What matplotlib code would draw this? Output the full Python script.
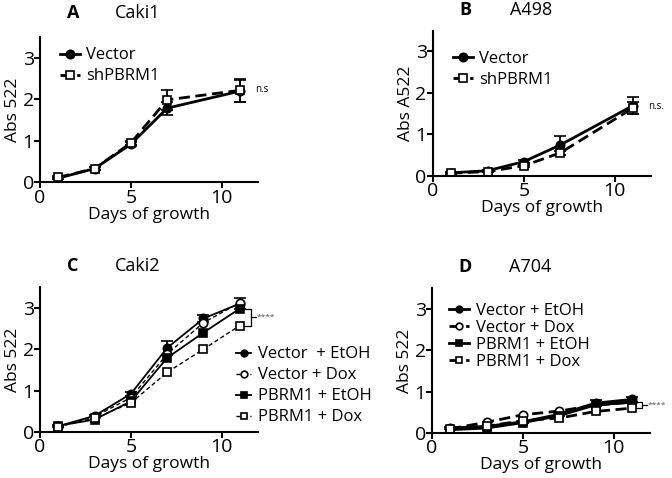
import matplotlib.pyplot as plt

plt.rcParams['font.family'] = ['Open Sans', 'DejaVu Sans']
plt.rcParams['axes.linewidth'] = 1.5
plt.rcParams['xtick.major.width'] = 1.5
plt.rcParams['ytick.major.width'] = 1.5
plt.rcParams['xtick.major.size'] = 4
plt.rcParams['ytick.major.size'] = 4
plt.rcParams['xtick.labelsize'] = 14
plt.rcParams['ytick.labelsize'] = 14

# data
days_ab = [1, 3, 5, 7, 11]
days_cd = [1, 3, 5, 7, 9, 11]

labels_ab = ['Vector', 'shPBRM1']
labels_c = ['Vector  + EtOH', 'Vector + Dox', 'PBRM1 + EtOH', 'PBRM1 + Dox']
labels_d = ['Vector + EtOH', 'Vector + Dox', 'PBRM1 + EtOH', 'PBRM1 + Dox']

caki1_vector = [0.10, 0.33, 0.92, 1.79, 2.20]
caki1_vector_err = [0.03, 0.03, 0.05, 0.16, 0.27]
caki1_sh = [0.12, 0.33, 0.95, 1.99, 2.22]
caki1_sh_err = [0.03, 0.03, 0.05, 0.24, 0.27]

a498_vector = [0.07, 0.12, 0.34, 0.74, 1.69]
a498_vector_err = [0.02, 0.02, 0.03, 0.23, 0.21]
a498_sh = [0.06, 0.10, 0.24, 0.55, 1.63]
a498_sh_err = [0.02, 0.02, 0.03, 0.05, 0.15]

caki2_vec_etoh = [0.14, 0.39, 0.92, 2.03, 2.74, 3.10]
caki2_vec_etoh_err = [0.03, 0.03, 0.04, 0.16, 0.08, 0.14]
caki2_vec_dox = [0.13, 0.37, 0.83, 1.88, 2.64, 3.12]
caki2_pb_etoh = [0.15, 0.30, 0.74, 1.79, 2.40, 2.98]
caki2_pb_dox = [0.13, 0.33, 0.70, 1.44, 2.00, 2.57]

a704_vec_etoh = [0.12, 0.16, 0.27, 0.45, 0.72, 0.81]
a704_vec_etoh_err = [0.02, 0.02, 0.03, 0.04, 0.07, 0.06]
a704_vec_dox = [0.10, 0.26, 0.44, 0.53, 0.67, 0.75]
a704_pb_etoh = [0.08, 0.12, 0.25, 0.42, 0.68, 0.74]
a704_pb_dox = [0.10, 0.16, 0.30, 0.36, 0.52, 0.60]

fig = plt.figure(figsize=(6.72, 4.78), dpi=100)

positions = {
    'A': [40/672, 1 - 182.3/478, 218/672, 145/478],
    'B': [433/672, 1 - 175.7/478, 218/672, 145/478],
    'C': [40/672, 1 - 432/478, 218/672, 145/478],
    'D': [432/672, 1 - 433/478, 218/672, 145/478],
}


def style(ax, ylabel):
    ax.set_xlim(0, 12)
    ax.set_ylim(0, 3.5)
    ax.set_xticks([0, 5, 10])
    ax.set_yticks([0, 1, 2, 3])
    ax.spines['top'].set_visible(False)
    ax.spines['right'].set_visible(False)
    ax.set_xlabel('Days of growth', fontsize=12.5, labelpad=0)
    ax.set_ylabel(ylabel, fontsize=12.5, labelpad=1)
    ax.tick_params(pad=0.5)


def title(ax, letter, name, y=1.145):
    ax.text(0.15, y, letter, transform=ax.transAxes, fontsize=13,
            fontweight='bold', ha='center', va='center')
    ax.text(0.45, y, name, transform=ax.transAxes, fontsize=13,
            ha='center', va='center')


def series(ax, x, y, err, marker, filled, ls, lw):
    cont = ax.errorbar(x, y, yerr=err, marker=marker, markersize=6,
                       markerfacecolor='black' if filled else 'white',
                       markeredgecolor='black', markeredgewidth=1.2,
                       color='black', ls=ls, lw=lw, capsize=4, elinewidth=1.3,
                       capthick=1.3)
    return cont[0]


leg_kw = dict(frameon=False, fontsize=12, handletextpad=0.4,
              borderpad=0, borderaxespad=0, loc='upper left')

# A
axA = fig.add_axes(positions['A'])
hA = [series(axA, days_ab, caki1_vector, caki1_vector_err, 'o', True, '-', 2),
      series(axA, days_ab, caki1_sh, caki1_sh_err, 's', False, (0, (4, 2)), 2)]
style(axA, 'Abs 522')
title(axA, 'A', 'Caki1', y=1.165)
axA.text(11.85, 2.23, 'n.s', fontsize=7, va='center')
axA.legend(hA, labels_ab, bbox_to_anchor=(0.09, 0.93), handlelength=1.2,
           labelspacing=0.3, **leg_kw)

# B
axB = fig.add_axes(positions['B'])
hB = [series(axB, days_ab, a498_vector, a498_vector_err, 'o', True, '-', 2),
      series(axB, days_ab, a498_sh, a498_sh_err, 's', False, (0, (4, 2)), 2)]
style(axB, 'Abs A522')
title(axB, 'B', 'A498')
axB.text(11.85, 1.67, 'n.s.', fontsize=7, va='center', clip_on=False)
axB.legend(hB, labels_ab, bbox_to_anchor=(0.09, 0.86), handlelength=1.2,
           labelspacing=0.3, **leg_kw)

# C
axC = fig.add_axes(positions['C'])
hC = [series(axC, days_cd, caki2_vec_etoh, caki2_vec_etoh_err, 'o', True, '-', 1.3),
      series(axC, days_cd, caki2_vec_dox, None, 'o', False, (0, (3, 2)), 1.0),
      series(axC, days_cd, caki2_pb_etoh, None, 's', True, '-', 1.3),
      series(axC, days_cd, caki2_pb_dox, None, 's', False, (0, (3, 2)), 1.0)]
style(axC, 'Abs 522')
title(axC, 'C', 'Caki2')
axC.plot([11.25, 11.6, 11.6, 11.25], [caki2_pb_etoh[-1], caki2_pb_etoh[-1],
         caki2_pb_dox[-1], caki2_pb_dox[-1]], color='black', lw=0.9, clip_on=False)
axC.plot([11.6, 11.9], [2.78, 2.78], color='black', lw=0.9, clip_on=False)
axC.text(11.9, 2.78, '****', fontsize=6, va='center', color='#555555', clip_on=False)
axC.legend(hC, labels_c, bbox_to_anchor=(0.9, 0.59), handlelength=0.9,
           labelspacing=0.3, markerscale=0.8, **leg_kw)

# D
axD = fig.add_axes(positions['D'])
hD = [series(axD, days_cd, a704_vec_etoh, a704_vec_etoh_err, 'o', True, '-', 2),
      series(axD, days_cd, a704_vec_dox, None, 'o', False, (0, (4, 2)), 2),
      series(axD, days_cd, a704_pb_etoh, None, 's', True, '-', 2),
      series(axD, days_cd, a704_pb_dox, None, 's', False, (0, (4, 2)), 2)]
style(axD, 'Abs 522')
title(axD, 'D', 'A704')
axD.plot([11.2, 11.55, 11.55, 11.2], [a704_vec_dox[-1], a704_vec_dox[-1],
         a704_pb_dox[-1], a704_pb_dox[-1]], color='black', lw=0.9, clip_on=False)
axD.plot([11.55, 11.85], [0.68, 0.68], color='black', lw=0.9, clip_on=False)
axD.text(11.85, 0.68, '****', fontsize=6, va='center', color='#555555', clip_on=False)
axD.legend(hD, labels_d, bbox_to_anchor=(0.08, 0.895), handlelength=1.2,
           labelspacing=0.05, markerscale=0.8, **leg_kw)

plt.savefig('out.png', dpi=100)
